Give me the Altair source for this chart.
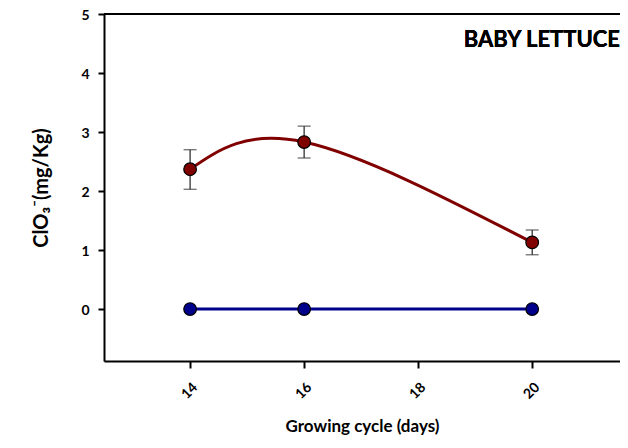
import altair as alt
import pandas as pd

days = [14, 16, 20]
chlorate = [2.37, 2.83, 1.13]
chlorate_lo = [2.03, 2.56, 0.92]
chlorate_hi = [2.70, 3.10, 1.34]
control = [0, 0, 0]
x_ticks = [14, 16, 18, 20]
y_ticks = [0, 1, 2, 3, 4, 5]

red = pd.DataFrame({"day": days, "v": chlorate, "lo": chlorate_lo, "hi": chlorate_hi})
blue = pd.DataFrame({"day": days, "v": control})

FONT = "Lato"
XMIN, XMAX = 12.49, 21.54
xs = alt.Scale(domain=[XMIN, XMAX], nice=False, zero=False)
ys = alt.Scale(domain=[-0.88, 5], nice=False, zero=False)

xaxis = alt.Axis(values=x_ticks, format="d", labelAngle=-45, labelFont=FONT, labelFontWeight="bold",
                 labelFontSize=14, labelColor="black", domainColor="black", domainWidth=2,
                 tickColor="black", tickWidth=2, tickSize=7, grid=False,
                 title="Growing cycle (days)", titleFont=FONT, titleFontSize=17,
                 titleFontWeight="bold", titleColor="black", titlePadding=17, labelPadding=12)
yaxis = alt.Axis(values=y_ticks, format="d", labelFont=FONT, labelFontWeight="bold", labelFontSize=14,
                 labelColor="black", domainColor="black", domainWidth=2, tickColor="black",
                 tickWidth=2, tickSize=6, grid=False, labelPadding=9, labelOffset=1,
                 title="ClO₃⁻(mg/Kg)", titleFont=FONT, titleFontSize=20, titleFontWeight="bold",
                 titleColor="black", titlePadding=29)

X = alt.X("day:Q", scale=xs, axis=xaxis)
Y = alt.Y("v:Q", scale=ys, axis=yaxis)

red_line = alt.Chart(red).mark_line(color="#800000", strokeWidth=3, interpolate="natural").encode(x=X, y=Y)
blue_line = alt.Chart(blue).mark_line(color="#00008B", strokeWidth=3).encode(x=X, y=Y)

err_rule = alt.Chart(red).mark_rule(color="#222222", strokeWidth=1.2).encode(
    x="day:Q", y="lo:Q", y2="hi:Q")
cap_lo = alt.Chart(red).mark_tick(color="#222222", thickness=1.2, size=13, orient="horizontal").encode(
    x="day:Q", y="lo:Q")
cap_hi = alt.Chart(red).mark_tick(color="#222222", thickness=1.2, size=13, orient="horizontal").encode(
    x="day:Q", y="hi:Q")

red_pts = alt.Chart(red).mark_point(filled=True, fill="#800000", stroke="black", strokeWidth=1.2,
                                    size=160, opacity=1, shape="circle").encode(x="day:Q", y="v:Q")
blue_pts = alt.Chart(blue).mark_point(filled=True, fill="#00008B", stroke="black", strokeWidth=1.2,
                                      size=160, opacity=1, shape="circle").encode(x="day:Q", y="v:Q")

top_line = alt.Chart(red).mark_rule(color="black", strokeWidth=2).encode(y=alt.datum(5))

label = alt.Chart(red).mark_text(text="BABY LETTUCE", font=FONT, fontSize=22, fontWeight="bold",
                                 color="black", align="right", baseline="alphabetic").encode(
    x=alt.datum(XMAX), y=alt.datum(4.44))

chart = alt.layer(
    top_line, blue_line, red_line, err_rule, cap_lo, cap_hi, blue_pts, red_pts, label
).properties(
    width=516, height=347,
    title=alt.TitleParams("Growing cycle (days)", font=FONT, fontSize=17, fontWeight="bold",
                          color="black", offset=6, dx=-56, baseline="alphabetic"),
    autosize=alt.AutoSizeParams(type="none"),
    padding={"left": 96, "top": 6, "right": 0, "bottom": 75},
).configure_view(stroke=None).configure(background="white")

chart.save("out.html", embed_options={"renderer": "svg", "actions": False})
